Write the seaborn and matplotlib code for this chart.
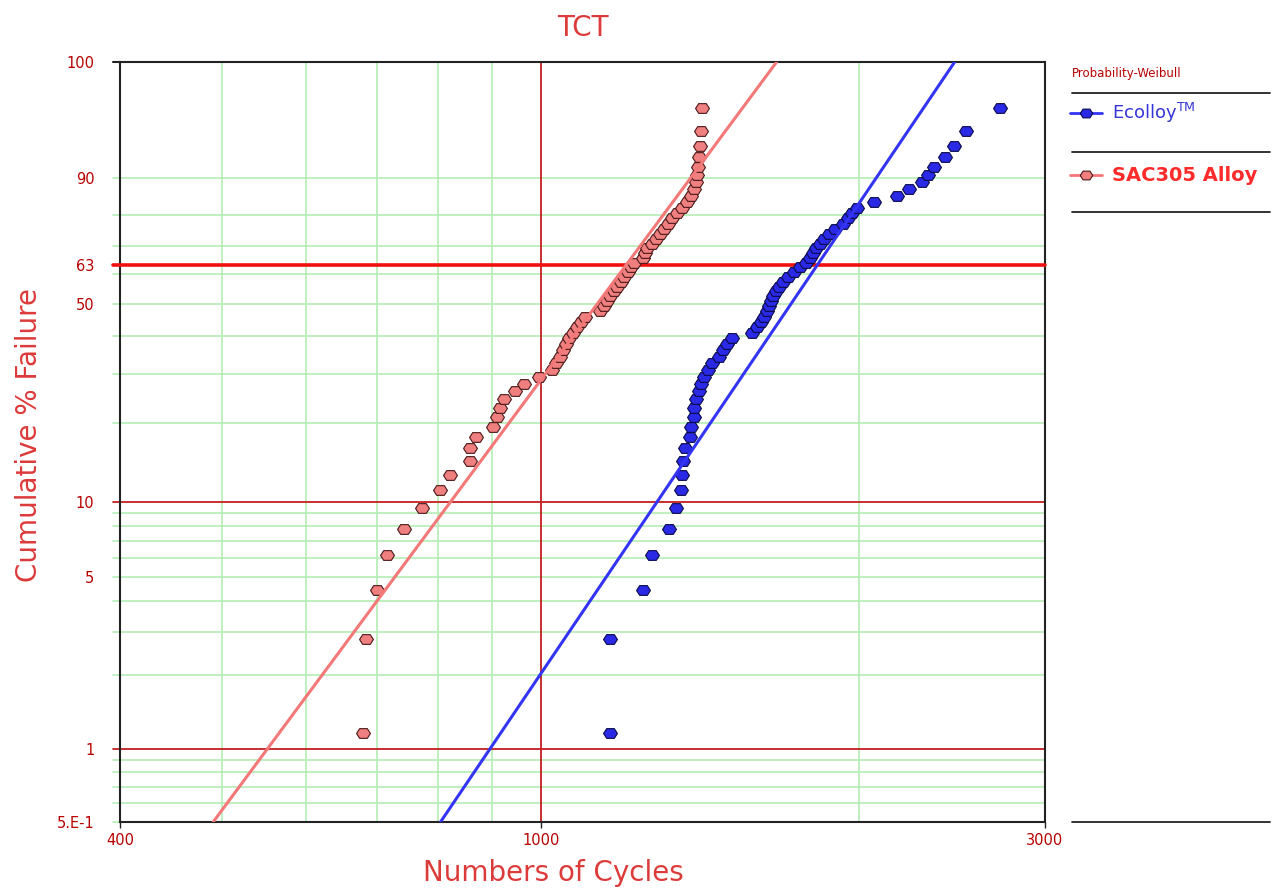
import numpy as np
import pandas as pd
import matplotlib
matplotlib.use("Agg")
import matplotlib.pyplot as plt
from matplotlib import font_manager as fm
from matplotlib.lines import Line2D
from matplotlib.ticker import NullLocator
import seaborn as sns

# ---------------- data ----------------
failure_pct = [1.16, 2.81, 4.47, 6.13, 7.78, 9.44, 11.09, 12.75, 14.40, 16.06,
               17.72, 19.37, 21.03, 22.68, 24.34, 25.99, 27.65, 29.30, 30.96, 32.62,
               34.27, 35.93, 37.58, 39.24, 40.89, 42.55, 44.21, 45.86, 47.52, 49.17,
               50.83, 52.48, 54.14, 55.79, 57.45, 59.11, 60.76, 62.42, 64.07, 65.73,
               67.38, 69.04, 70.70, 72.35, 74.01, 75.66, 77.32, 78.97, 80.63, 82.28,
               83.94, 85.60, 87.25, 88.91, 90.56, 92.22, 93.87, 95.53, 97.19, 98.84]

sac_cycles = [679, 683, 700, 715, 742, 773, 803, 820, 857, 858,
              868, 901, 909, 915, 923, 945, 964, 996, 1024, 1035,
              1042, 1049, 1056, 1063, 1072, 1082, 1091, 1101, 1137, 1147,
              1155, 1162, 1172, 1180, 1190, 1198, 1209, 1217, 1225, 1249,
              1254, 1262, 1274, 1285, 1296, 1307, 1319, 1330, 1345, 1360,
              1374, 1386, 1396, 1402, 1405, 1408, 1411, 1414, 1417, 1420]

eco_cycles = [1162, 1162, 1249, 1274, 1322, 1342, 1357, 1360, 1365, 1368,
              1383, 1386, 1396, 1396, 1402, 1411, 1417, 1426, 1439, 1454,
              1474, 1487, 1500, 1516, 1583, 1601, 1615, 1625, 1636, 1643,
              1650, 1658, 1668, 1679, 1694, 1713, 1735, 1758, 1781, 1797,
              1809, 1820, 1836, 1852, 1873, 1897, 1931, 1952, 1969, 1991,
              2066, 2172, 2229, 2293, 2323, 2354, 2411, 2459, 2524, 2718]

# Weibull fit lines: end points (cycles, % failure)
fit_pct = [0.5, 99.9]
sac_fit_cycles = [490, 1672]
eco_fit_cycles = [804, 2464]

series_names = ["SAC305 Alloy", "Ecolloy"]

x_limits = [400, 3000]
y_limits = [0.5, 99.9]
x_tick_values = [400, 1000, 3000]
x_tick_labels = ["400", "1000", "3000"]
y_tick_values = [0.5, 1, 5, 10, 50, 63.2, 90, 99.9]
y_tick_labels = ["5.E-1", "1", "5", "10", "50", "63", "90", "100"]

x_grid_green = [500, 600, 700, 800, 900, 2000]
x_grid_red = [1000]
y_grid_green = [0.6, 0.7, 0.8, 0.9, 2, 3, 4, 5, 6, 7, 8, 9,
                20, 30, 40, 50, 60, 70, 80, 90]
y_grid_red = [1, 10]
y_char_life = [63.2]

# ---------------- styling ----------------
sns.set_style("white")
plt.rcParams["font.family"] = ["DejaVu Sans"]

W, H = 1278, 894
fig = plt.figure(figsize=(W / 100, H / 100), dpi=100)
fig.patch.set_facecolor("white")
L, R, T, B = 120, 1045, 62, 822
ax = fig.add_axes([L / W, 1 - B / H, (R - L) / W, (B - T) / H])
ax.set_facecolor("white")

SAC_FILL, SAC_EDGE, SAC_LINE = "#f08080", "#4a1818", "#f47878"
ECO_FILL, ECO_EDGE, ECO_LINE = "#2a2ae6", "#0a0a4a", "#3434f4"
GREEN = "#b4ecb4"
DARKRED = "#c41e1e"
LABEL_RED = "#dd3a3a"
TICK_RED = "#b80000"

hexm = [(-1, 0), (-0.55, 0.7), (0.55, 0.7), (1, 0), (0.55, -0.7), (-0.55, -0.7), (-1, 0)]

df_sac = pd.DataFrame({"cycles": sac_cycles, "pct": failure_pct})
df_eco = pd.DataFrame({"cycles": eco_cycles, "pct": failure_pct})

sns.scatterplot(data=df_sac, x="cycles", y="pct", marker=hexm, s=100,
                color=SAC_FILL, edgecolor=SAC_EDGE, linewidth=0.8, ax=ax,
                zorder=5, legend=False)
sns.scatterplot(data=df_eco, x="cycles", y="pct", marker=hexm, s=100,
                color=ECO_FILL, edgecolor=ECO_EDGE, linewidth=0.8, ax=ax,
                zorder=5, legend=False)
sns.lineplot(x=sac_fit_cycles, y=fit_pct, color=SAC_LINE, linewidth=2.2, ax=ax,
             zorder=6, legend=False)
sns.lineplot(x=eco_fit_cycles, y=fit_pct, color=ECO_LINE, linewidth=2.2, ax=ax,
             zorder=6, legend=False)

# Weibull probability scale
def fwd(p):
    p = np.clip(np.asarray(p, dtype=float), 1e-9, 100 - 1e-9)
    return np.log(-np.log(1 - p / 100.0))

def inv(w):
    return 100.0 * (1 - np.exp(-np.exp(np.asarray(w, dtype=float))))

ax.set_xscale("log")
ax.set_yscale("function", functions=(fwd, inv))
ax.set_xlim(*x_limits)
ax.set_ylim(*y_limits)

ax.xaxis.set_minor_locator(NullLocator())
ax.yaxis.set_minor_locator(NullLocator())
ax.set_xticks(x_tick_values, labels=x_tick_labels)
ax.set_yticks(y_tick_values, labels=y_tick_labels)
ax.tick_params(axis="y", left=False, pad=15, labelsize=10.5, labelcolor=TICK_RED)
ax.tick_params(axis="x", bottom=True, direction="out", length=4, width=1,
               color="#222222", pad=4, labelsize=10.5, labelcolor=TICK_RED)
ax.set_xlabel("")
ax.set_ylabel("")

stub = -7 / (R - L)
for y in y_grid_green:
    ax.axhline(y, xmin=stub, xmax=1, color=GREEN, lw=1.2, zorder=1, clip_on=False)
for y in y_grid_red:
    ax.axhline(y, xmin=stub, xmax=1, color=DARKRED, lw=1.3, zorder=2, clip_on=False)
for y in y_char_life:
    ax.axhline(y, xmin=stub, xmax=1, color="#f01010", lw=2.6, zorder=3, clip_on=False)
ax.axhline(y_limits[1], xmin=stub, xmax=0, color="#222222", lw=1.5, clip_on=False)
ax.axhline(y_limits[0], xmin=stub, xmax=0, color=GREEN, lw=1.2, clip_on=False)
for x in x_grid_green:
    ax.axvline(x, color=GREEN, lw=1.2, zorder=1)
for x in x_grid_red:
    ax.axvline(x, color=DARKRED, lw=1.3, zorder=2)

for s in ax.spines.values():
    s.set_color("#222222")
    s.set_linewidth(1.5)
    s.set_visible(True)

# titles
fig.text(583 / W, 1 - 28 / H, "TCT", ha="center", va="center", fontsize=20,
         color=LABEL_RED)
fig.text(553 / W, 1 - 873 / H, "Numbers of Cycles", ha="center", va="center",
         fontsize=20, color=LABEL_RED)
fig.text(29 / W, 1 - 435 / H, "Cumulative % Failure", ha="center", va="center",
         rotation=90, fontsize=20, color=LABEL_RED)

# legend panel
fig.text(1072 / W, 1 - 73 / H, "Probability-Weibull", ha="left", va="center",
         fontsize=8.5, color=TICK_RED)
for yy in [93, 152, 212, 822]:
    fig.add_artist(Line2D([1072 / W, 1270 / W], [1 - yy / H, 1 - yy / H],
                          transform=fig.transFigure, color="#222222", lw=1.3))
legend_rows = [
    (113, ECO_LINE, ECO_FILL, ECO_EDGE, "Ecolloy$^{\\mathrm{TM}}$", "#3535d8", "normal", 13),
    (175, SAC_LINE, SAC_FILL, SAC_EDGE, series_names[0], "#ff2a2a", "bold", 14),
]
for yy, lc, fc, ec, label, tc, fw, fs in legend_rows:
    yf = 1 - yy / H
    fig.add_artist(Line2D([1070 / W, 1102 / W], [yf, yf], transform=fig.transFigure,
                          color=lc, lw=2))
    fig.add_artist(Line2D([1086 / W], [yf], transform=fig.transFigure, marker=hexm,
                          markersize=9, markerfacecolor=fc, markeredgecolor=ec,
                          markeredgewidth=0.8, lw=0))
    fig.text(1112 / W, yf, label, ha="left", va="center", fontsize=fs, color=tc,
             fontweight=fw)

fig.savefig("out.png", dpi=100, facecolor="white")
